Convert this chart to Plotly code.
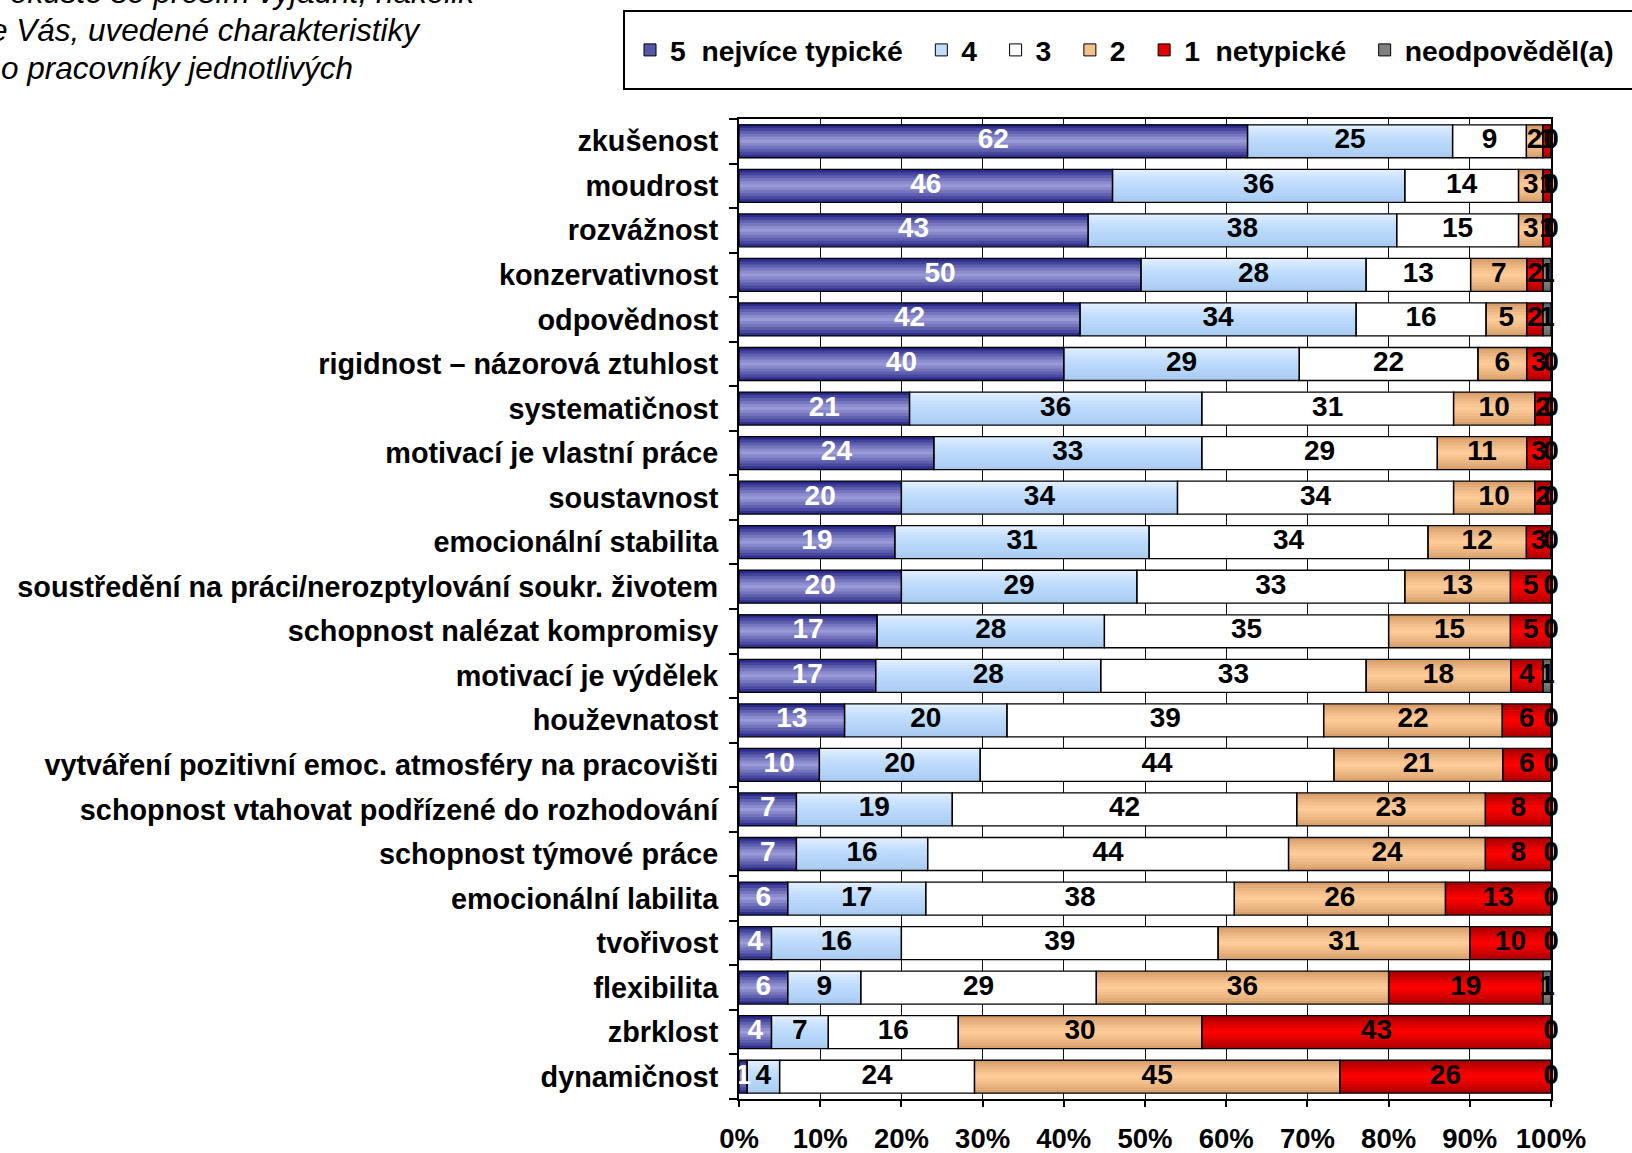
import plotly.graph_objects as go

# Characteristics (top to bottom) and shares of answers in each rating class
categories = [
    "zkušenost",
    "moudrost",
    "rozvážnost",
    "konzervativnost",
    "odpovědnost",
    "rigidnost – názorová ztuhlost",
    "systematičnost",
    "motivací je vlastní práce",
    "soustavnost",
    "emocionální stabilita",
    "soustředění na práci/nerozptylování soukr. životem",
    "schopnost nalézat kompromisy",
    "motivací je výdělek",
    "houževnatost",
    "vytváření pozitivní emoc. atmosféry na pracovišti",
    "schopnost vtahovat podřízené do rozhodování",
    "schopnost týmové práce",
    "emocionální labilita",
    "tvořivost",
    "flexibilita",
    "zbrklost",
    "dynamičnost",
]

rating_5 = [62, 46, 43, 50, 42, 40, 21, 24, 20, 19, 20, 17, 17, 13, 10, 7, 7, 6, 4, 6, 4, 1]
rating_4 = [25, 36, 38, 28, 34, 29, 36, 33, 34, 31, 29, 28, 28, 20, 20, 19, 16, 17, 16, 9, 7, 4]
rating_3 = [9, 14, 15, 13, 16, 22, 31, 29, 34, 34, 33, 35, 33, 39, 44, 42, 44, 38, 39, 29, 16, 24]
rating_2 = [2, 3, 3, 7, 5, 6, 10, 11, 10, 12, 13, 15, 18, 22, 21, 23, 24, 26, 31, 36, 30, 45]
rating_1 = [1, 1, 1, 2, 2, 3, 2, 3, 2, 3, 5, 5, 4, 6, 6, 8, 8, 13, 10, 19, 43, 26]
no_answer = [0, 0, 0, 1, 1, 0, 0, 0, 0, 0, 0, 0, 1, 0, 0, 0, 0, 0, 0, 1, 0, 0]

GAP = "\u00a0\u2009"
series_names = [
    "5\u00a0\u00a0nejvíce typické" + GAP,
    "4" + GAP,
    "3" + GAP,
    "2" + GAP,
    "1\u00a0\u00a0netypické" + GAP,
    "neodpověděl(a)",
]
series_values = [rating_5, rating_4, rating_3, rating_2, rating_1, no_answer]

x_ticks = list(range(0, 101, 10))
x_tick_labels = [f"{v}%" for v in x_ticks]

# bottom / middle / top colour of the vertical gradient of each series
gradients = [
    ("#1c1c80", "#9a9ad8", "#1c1c80"),
    ("#a6c9ef", "#bcdafc", "#e4f0ff"),
    ("#ffffff", "#ffffff", "#ffffff"),
    ("#d29a66", "#ffcc99", "#d29a66"),
    ("#a00000", "#ff0000", "#a00000"),
    ("#5e5e5e", "#959595", "#5e5e5e"),
]
legend_colors = ["#5656aa", "#c2ddfc", "#ffffff", "#f4c08c", "#e00000", "#808080"]
label_colors = ["white", "black", "black", "black", "black", "black"]

FONT = "Liberation Sans, Arial, sans-serif"
BAR_W = 0.74
STRIPES = 11


def hex_to_rgb(h):
    h = h.lstrip("#")
    return tuple(int(h[i:i + 2], 16) for i in (0, 2, 4))


def mix(c1, c2, t):
    a, b = hex_to_rgb(c1), hex_to_rgb(c2)
    return "rgb({},{},{})".format(*[round(a[k] + (b[k] - a[k]) * t) for k in range(3)])


def gradient_color(stops, u):
    bottom, middle, top = stops
    if u <= 0.5:
        return mix(bottom, middle, (u / 0.5) ** 0.8)
    return mix(middle, top, ((u - 0.5) / 0.5) ** 1.25)


# normalise every row to 100 % and find where each segment starts
row_totals = [sum(vals) for vals in zip(*series_values)]
shares = [[v * 100.0 / t for v, t in zip(vals, row_totals)] for vals in series_values]
starts = []
running = [0.0] * len(categories)
for sh in shares:
    starts.append(running[:])
    running = [r + s for r, s in zip(running, sh)]

fig = go.Figure()

# legend entries
for name, col in zip(series_names, legend_colors):
    fig.add_trace(go.Bar(
        x=[None], y=[None], orientation="h", name=name,
        marker=dict(color=col, line=dict(color="black", width=1)),
        showlegend=True, hoverinfo="skip",
    ))

# gradient fill: nested layers, each reaching the top edge of the bar,
# so every new layer covers the upper part of the previous one
stripe_h = BAR_W / STRIPES
for j, sh in enumerate(shares):
    for i in range(STRIPES):
        u = (i + 0.5) / STRIPES
        fig.add_trace(go.Bar(
            x=sh, y=categories, base=starts[j], orientation="h",
            width=BAR_W - i * stripe_h, offset=-BAR_W / 2 + i * stripe_h,
            marker=dict(color=gradient_color(gradients[j], u), line=dict(width=0)),
            showlegend=False, hoverinfo="skip",
        ))

# segment outlines
for j, sh in enumerate(shares):
    fig.add_trace(go.Bar(
        x=sh, y=categories, base=starts[j], orientation="h",
        width=BAR_W, offset=-BAR_W / 2,
        marker=dict(color="rgba(0,0,0,0)", line=dict(color="black", width=1.3)),
        showlegend=False, hoverinfo="skip",
    ))

# value labels in the middle of each segment
for j, sh in enumerate(shares):
    centers = [s + w / 2 for s, w in zip(starts[j], sh)]
    fig.add_trace(go.Scatter(
        x=centers, y=categories, mode="text",
        text=[str(v) for v in series_values[j]],
        textposition="middle center",
        textfont=dict(family=FONT, size=28, color=label_colors[j], weight="bold"),
        cliponaxis=False, showlegend=False, hoverinfo="skip",
    ))

# plot area in pixels
W_PX, H_PX = 1632, 1153
L, R, T, B = 739, 81, 119, 54
pw, ph = W_PX - L - R, H_PX - T - B


def px_x(x):
    return (x - L) / pw


def px_y(y):
    return (H_PX - B - y) / ph


question_lines = [
    ("okuste se prosím vyjádřit, nakolik", 478, -8),
    ("e Vás, uvedené charakteristiky", 423, 30),
    ("o pracovníky jednotlivých", 355, 68),
]
annotations = [
    dict(text=t, x=px_x(xr), y=px_y(yc), xref="paper", yref="paper",
         xanchor="right", yanchor="middle", showarrow=False,
         font=dict(family=FONT, size=31.5, color="black", style="italic"))
    for t, xr, yc in question_lines
]

fig.update_layout(
    width=W_PX, height=H_PX,
    margin=dict(l=L, r=R, t=T, b=B, autoexpand=False),
    barmode="overlay",
    paper_bgcolor="white", plot_bgcolor="white",
    font=dict(family=FONT, size=27, color="black"),
    showlegend=True,
    legend=dict(
        orientation="h", x=px_x(630), y=px_y(50), xanchor="left", yanchor="middle",
        font=dict(family=FONT, size=28.3, color="black", weight="bold"),
        bgcolor="rgba(0,0,0,0)", borderwidth=0, traceorder="normal",
    ),
    shapes=[dict(
        type="rect", xref="paper", yref="paper",
        x0=px_x(624), x1=px_x(1660), y0=px_y(11), y1=px_y(89),
        line=dict(color="black", width=2), fillcolor="white", layer="below",
    )],
    annotations=annotations,
)

fig.update_xaxes(
    range=[0, 100], tickvals=x_ticks, ticktext=x_tick_labels,
    showgrid=True, gridcolor="#111111", gridwidth=1.4, zeroline=False,
    showline=True, linecolor="black", linewidth=2, mirror=True,
    ticks="outside", ticklen=6, tickcolor="black", tickwidth=1.5,
    ticklabelstandoff=8,
    tickfont=dict(family=FONT, size=27.5, color="black", weight="bold"),
    fixedrange=True,
)
fig.update_yaxes(
    type="category", categoryorder="array", categoryarray=categories[::-1],
    range=[-0.5, len(categories) - 0.5],
    showgrid=False, zeroline=False,
    showline=True, linecolor="black", linewidth=2, mirror=True,
    ticks="outside", ticklen=8, tickcolor="black", tickwidth=1.5,
    tickson="boundaries", ticklabelstandoff=13,
    tickfont=dict(family=FONT, size=28.8, color="black", weight="bold"),
    fixedrange=True,
)

fig.write_html("out.html", config={"displayModeBar": False})
